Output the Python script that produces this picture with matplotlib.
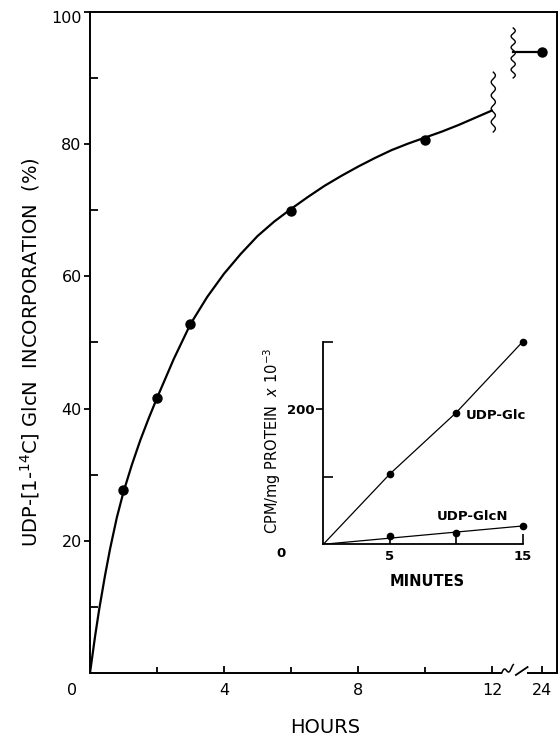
import numpy as np
import matplotlib
matplotlib.use("Agg")
import matplotlib.pyplot as plt
from matplotlib import transforms

# ---------------- data ----------------
hours_pts = [1, 2, 3, 6, 10, 24]
pct_pts = [27.7, 41.6, 52.8, 69.9, 80.7, 93.9]

curve_hours = [0, 0.15, 0.27, 0.45, 0.6, 0.8, 1.0, 1.25, 1.5, 1.75, 2.0, 2.5, 3.0,
               3.5, 4.0, 4.5, 5.0, 5.5, 6.0, 6.5, 7.0, 7.5, 8.0, 8.5, 9.0, 9.5,
               10.0, 10.5, 11.0, 11.5, 12.0]
curve_pct = [0, 5.5, 9.5, 14.8, 18.8, 23.5, 27.4, 31.5, 35.2, 38.5, 41.6, 47.5, 52.8,
             56.9, 60.4, 63.4, 66.1, 68.3, 70.2, 72.0, 73.7, 75.2, 76.6, 77.9, 79.1, 80.1,
             81.0, 81.9, 82.9, 84.0, 85.1]

x_ticks = [0, 4, 8, 12, 24]
x_ticklabels = ["0", "4", "8", "12", "24"]
x_minor = [2, 6, 10]
y_ticks = [20, 40, 60, 80, 100]
y_minor = [10, 30, 50, 70, 90]

minutes = [5, 10, 15]
udp_glc = [104, 195, 300]
udp_glcn = [12.7, 17.2, 27.1]

# ---------------- figure ----------------
plt.rcParams["font.family"] = ["DejaVu Sans"]
fig = plt.figure(figsize=(5.59, 7.36), dpi=100)
ax = fig.add_axes([0.1610, 0.0856, 0.8354, 0.8981])

XBREAK = 12.3
K = 0.1026


def fwd(h):
    h = np.asarray(h, dtype=float)
    return np.where(h <= XBREAK, h, XBREAK + (h - XBREAK) * K)


def inv(d):
    d = np.asarray(d, dtype=float)
    return np.where(d <= XBREAK, d, XBREAK + (d - XBREAK) / K)


XMAX_D = 13.94
ax.set_xscale("function", functions=(fwd, inv))
ax.set_xlim(0, float(inv(XMAX_D)))
ax.set_ylim(0, 100)

LW = 1.6
ax.plot(curve_hours, curve_pct, color="black", lw=LW, solid_capstyle="round", zorder=3)
ax.plot(hours_pts, pct_pts, "o", color="black", ms=6.5, clip_on=False, zorder=5)

# 24 h level line from second break squiggle
b2_frac = 0.9062
h_b2 = float(inv(b2_frac * XMAX_D))
ax.plot([h_b2, hours_pts[-1]], [pct_pts[-1], pct_pts[-1]], color="black", lw=LW, zorder=3)


def squiggle(xc, y0, y1, amp=0.0045, n=4.5):
    t = np.linspace(0, 1, 80)
    yy = y0 + (y1 - y0) * t
    xx = xc + amp * np.sin(2 * np.pi * n * t)
    ax.plot(xx, yy, transform=ax.transAxes, color="black", lw=1.0, clip_on=False, zorder=4)


squiggle(0.8636, 0.8185, 0.909)
squiggle(0.9062, 0.9002, 0.9758)

# x-axis break
ax.plot([0.8816, 0.9351], [0, 0], transform=ax.transAxes, color="white", lw=4,
        clip_on=False, zorder=10, solid_capstyle="butt")
t = np.linspace(0, 1, 30)
wx = 0.8816 + 0.025 * t
wy = 0.0 + 0.009 * t + 0.004 * np.sin(2 * np.pi * 1.2 * t)
ax.plot(wx, wy, transform=ax.transAxes, color="black", lw=1.1, clip_on=False, zorder=11)
ax.plot([0.912, 0.937], [-0.003, 0.009], transform=ax.transAxes, color="black", lw=1.3,
        clip_on=False, zorder=11)

# ticks
ax.set_xticks(x_ticks)
ax.set_xticklabels(x_ticklabels)
ax.set_xticks(x_minor, minor=True)
ax.set_yticks(y_ticks)
ax.set_yticklabels([str(v) for v in y_ticks])
ax.set_yticks(y_minor, minor=True)
ax.tick_params(axis="x", which="major", direction="in", length=5, width=1.3, pad=7, labelsize=11.5)
ax.tick_params(axis="x", which="minor", direction="in", length=4, width=1.3)
ax.tick_params(axis="y", which="major", direction="out", length=4.5, width=1.3, pad=1.5, labelsize=11.5)
ax.tick_params(axis="y", which="minor", direction="in", length=6, width=1.3)
for s in ax.spines.values():
    s.set_linewidth(1.4)

xt = ax.xaxis.get_major_ticks()
xt[0].tick1line.set_visible(False)
off0 = transforms.ScaledTranslation(-0.18, 0, fig.dpi_scale_trans)
xt[0].label1.set_transform(xt[0].label1.get_transform() + off0)
yt = ax.yaxis.get_major_ticks()
offtop = transforms.ScaledTranslation(0, -0.05, fig.dpi_scale_trans)
yt[-1].label1.set_transform(yt[-1].label1.get_transform() + offtop)

ax.set_xlabel("HOURS", fontsize=14)
ax.xaxis.set_label_coords(0.503, -0.0817)
ax.xaxis.label.set_va("center")
ax.set_ylabel(r"UDP-$\left[\text{1-}^{14}\mathrm{C}\right]$ GlcN  INCORPORATION  (%)", fontsize=14)
ax.yaxis.set_label_coords(-0.1285, 0.4856)
ax.yaxis.label.set_va("center")

# ---------------- inset ----------------
axi = fig.add_axes([0.5784, 0.2605, 0.3567, 0.2753])
axi.set_facecolor("none")
axi.spines["top"].set_visible(False)
axi.spines["right"].set_visible(False)
for s in ("left", "bottom"):
    axi.spines[s].set_linewidth(1.3)
axi.set_xlim(0, 15)
axi.set_ylim(0, 300)

ILW = 0.9
axi.plot([0] + minutes, [0] + udp_glc, color="black", lw=ILW)
axi.plot(minutes, udp_glc, "o", color="black", ms=4.5, clip_on=False)
axi.plot([0, minutes[-1]], [0, udp_glcn[-1]], color="black", lw=ILW)
axi.plot(minutes, udp_glcn, "o", color="black", ms=4.5, clip_on=False)

axi.text(10.71, 190.4, "UDP-Glc", fontsize=9.5, fontweight="bold", va="center", ha="left")
axi.text(8.53, 40.9, "UDP-GlcN", fontsize=9.5, fontweight="bold", va="center", ha="left")

axi.set_xticks(minutes)
axi.set_xticklabels(["5", "", "15"])
axi.set_yticks([0, 200])
axi.set_yticklabels(["0", "200"])
axi.set_yticks([100, 300], minor=True)
axi.set_xticks([], minor=True)
axi.tick_params(axis="x", which="major", direction="in", length=7, width=1.2, pad=4, labelsize=9.5)
axi.tick_params(axis="y", which="major", direction="out", length=5, width=1.2, pad=1, labelsize=9.5)
axi.tick_params(axis="y", which="minor", direction="in", length=7, width=1.2)
for lab in axi.get_xticklabels() + axi.get_yticklabels():
    lab.set_fontweight("bold")

iyt = axi.yaxis.get_major_ticks()
iyt[0].tick1line.set_visible(False)
offi = transforms.ScaledTranslation(-0.29, -0.08, fig.dpi_scale_trans)
iyt[0].label1.set_transform(iyt[0].label1.get_transform() + offi)

axi.set_xlabel("MINUTES", fontsize=10.5, fontweight="bold")
axi.xaxis.set_label_coords(0.5186, -0.1846)
axi.xaxis.label.set_va("center")
axi.set_ylabel(r"CPM/mg PROTEIN  $x$ 10$^{-3}$", fontsize=10.5)
axi.yaxis.set_label_coords(-0.257, 0.51)
axi.yaxis.label.set_va("center")

fig.savefig("out.png", dpi=100)
